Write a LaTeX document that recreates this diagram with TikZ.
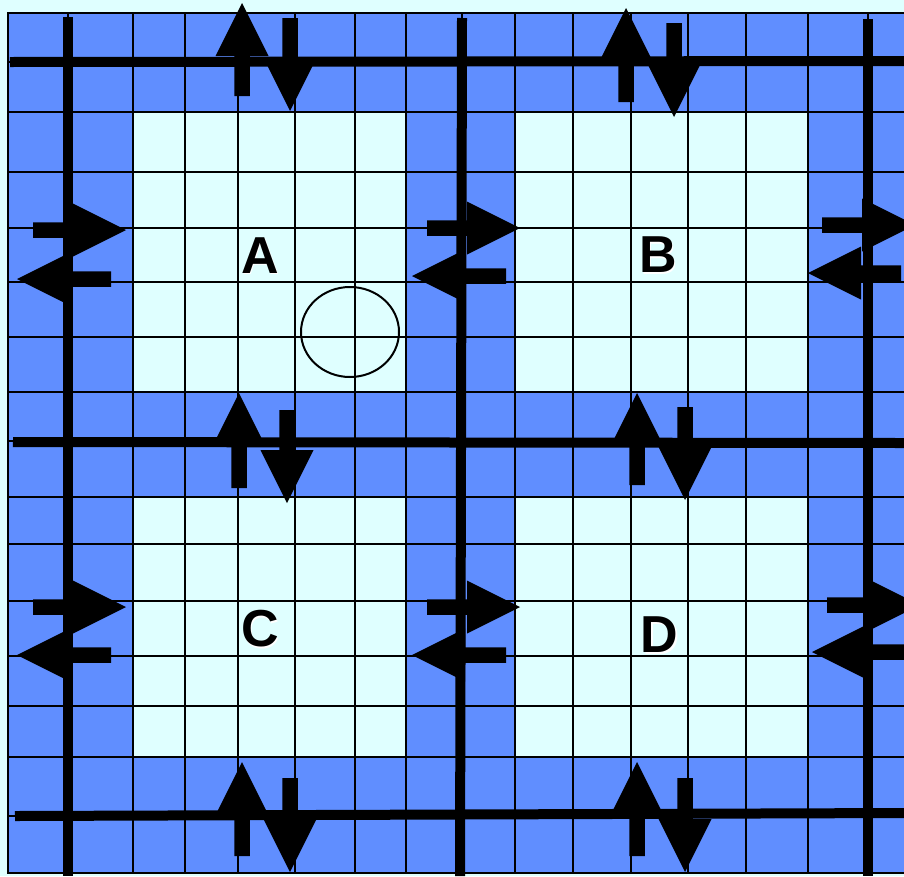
\documentclass[tikz,border=0pt]{standalone}
\usepackage{fontspec}
\setmainfont{Liberation Sans}
\usetikzlibrary{calc}
\definecolor{gridblue}{RGB}{96,142,255}
\definecolor{paleCyan}{RGB}{223,255,255}
\tikzset{
  thingrid/.style={line width=2.3pt, black},
  thickline/.style={line width=10pt, black},
  arrowfill/.style={fill=black},
  letter/.style={font=\fontsize{52}{52}\selectfont\bfseries, inner sep=0pt, text=black},
  lettershadow/.style={font=\fontsize{52}{52}\selectfont\bfseries, inner sep=0pt, text=white}
}
\newcommand\fatarrow[3]{%
  \coordinate (#1-t) at (#2);
  \coordinate (#1-p) at (#3);
  \coordinate (#1-b) at ($(#1-p)!53pt!(#1-t)$);
  \fill[arrowfill] ($(#1-t)!7.75pt!90:(#1-p)$) -- ($(#1-b)!7.75pt!90:(#1-p)$)
    -- ($(#1-b)!26.5pt!90:(#1-p)$) -- (#1-p) -- ($(#1-b)!26.5pt!-90:(#1-p)$)
    -- ($(#1-b)!7.75pt!-90:(#1-p)$) -- ($(#1-t)!7.75pt!-90:(#1-p)$) -- cycle;
}
\begin{document}
\begin{tikzpicture}[x=1pt,y=-1pt]
\useasboundingbox (0,0) rectangle (904,876);
\fill[paleCyan] (0,0) rectangle (904,876);
% blue field
\fill[gridblue] (8,13) rectangle (904,873);
% pale squares
\fill[paleCyan] (133,112) rectangle (406,392);
\fill[paleCyan] (515,112) rectangle (808,392);
\fill[paleCyan] (133,497) rectangle (406,757);
\fill[paleCyan] (515,497) rectangle (808,757);
% thin grid
\foreach \x in {68,133,185,238,295,355,406,462,515,573,631,688,746,808,868}
  \draw[thingrid] (\x,13) -- (\x,873);
\foreach \y in {62,112,172,228,282,337,392,441,497,544,601,656,706,757,816}
  \draw[thingrid] (8,\y) -- (904,\y);
% border
\draw[line width=2.5pt] (904,13) -- (8,13) -- (8,873) -- (904,873);
% thick lines
\draw[thickline] (10,62) -- (904,61);
\draw[thickline] (13,442) -- (904,443);
\draw[thickline] (15,816) -- (904,813);
\draw[thickline] (68,17) -- (68,876);
\draw[thickline] (462,18) -- (460,876);
\draw[thickline] (868,19) -- (868,876);
% circle
\draw[line width=2pt] (350,332) ellipse [x radius=49, y radius=45];
% vertical arrows
\fatarrow{u1}{242,96}{242,3}
\fatarrow{d1}{290,18}{290,111}
\fatarrow{u2}{626,102}{626,8}
\fatarrow{d2}{674,23}{674,117}
\fatarrow{u3}{239,488}{239,393}
\fatarrow{d3}{287,410}{287,503}
\fatarrow{u4}{637,485}{637,393}
\fatarrow{d4}{685,407}{685,500}
\fatarrow{u5}{242,856}{242,762}
\fatarrow{d5}{290,778}{290,872}
\fatarrow{u6}{637,856}{637,762}
\fatarrow{d6}{685,778}{685,872}
% horizontal arrows
\fatarrow{r1}{33,230}{126,230}
\fatarrow{l1}{111,279}{17,279}
\fatarrow{r2}{33,607}{126,607}
\fatarrow{l2}{111,655}{17,655}
\fatarrow{r3}{427,228}{520,228}
\fatarrow{l3}{506,276}{412,276}
\fatarrow{r4}{427,607}{520,607}
\fatarrow{l4}{506,655}{412,655}
\fatarrow{r5}{822,225}{915,225}
\fatarrow{l5}{901,273}{808,273}
\fatarrow{r6}{827,605}{920,605}
\fatarrow{l6}{906,652}{812,652}
% letters
\node[lettershadow] (Ash) at (261.5,257) {A};
\node[letter] (A) at (260,255.5) {A};
\node[lettershadow] (Bsh) at (659.5,256.5) {B};
\node[letter] (B) at (658,255) {B};
\node[lettershadow] (Csh) at (261.5,630.5) {C};
\node[letter] (C) at (260,629) {C};
\node[lettershadow] (Dsh) at (661,636.5) {D};
\node[letter] (D) at (659.5,635) {D};
\end{tikzpicture}
\end{document}
